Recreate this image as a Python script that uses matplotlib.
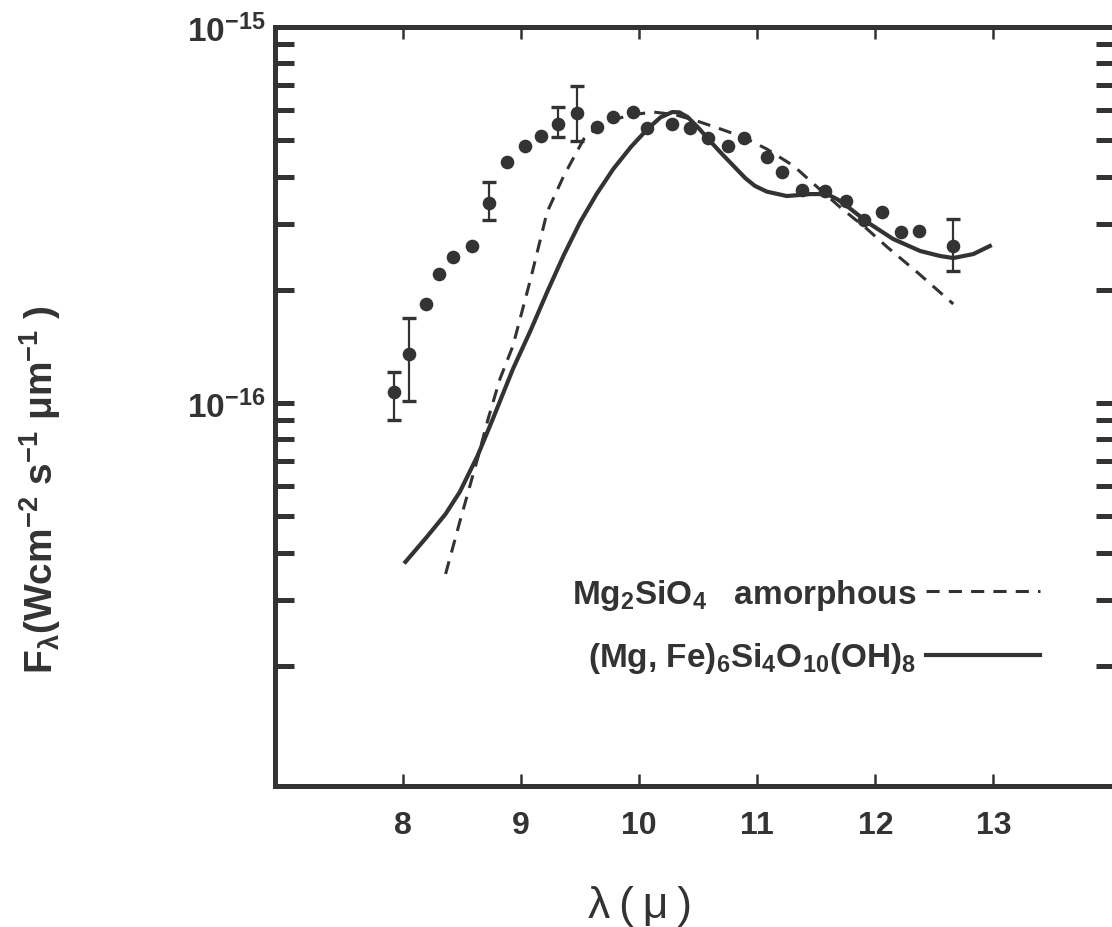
import matplotlib.pyplot as plt
from matplotlib.ticker import FixedLocator, FixedFormatter, LogLocator, NullFormatter

plt.rcParams['font.family'] = ['Liberation Sans', 'DejaVu Sans']
plt.rcParams['font.weight'] = 'bold'
plt.rcParams['mathtext.fontset'] = 'custom'
plt.rcParams['mathtext.rm'] = 'Liberation Sans:bold'
plt.rcParams['mathtext.it'] = 'Liberation Sans:bold:italic'
plt.rcParams['mathtext.bf'] = 'Liberation Sans:bold'
plt.rcParams['mathtext.default'] = 'regular'

ink = '#333333'
unit = 1e-16  # fluxes below are in units of 1e-16 W cm^-2 s^-1 um^-1

# observed spectrum
obs_wl = [7.92, 8.05, 8.19, 8.30, 8.42, 8.58, 8.73, 8.88, 9.03, 9.17, 9.31,
          9.47, 9.64, 9.78, 9.95, 10.07, 10.28, 10.43, 10.58, 10.75, 10.89,
          11.08, 11.21, 11.38, 11.57, 11.75, 11.90, 12.06, 12.22, 12.37, 12.66]
obs_f = [1.07, 1.35, 1.83, 2.20, 2.45, 2.62, 3.40, 4.38, 4.83, 5.13, 5.52,
         5.91, 5.42, 5.76, 5.94, 5.39, 5.52, 5.39, 5.07, 4.83, 5.07,
         4.51, 4.12, 3.69, 3.66, 3.45, 3.07, 3.22, 2.85, 2.87, 2.62]

# points that carry error bars
err_wl = [7.92, 8.05, 8.73, 9.31, 9.47, 12.66]
err_f = [1.07, 1.35, 3.40, 5.52, 5.91, 2.62]
err_lo = [0.90, 1.01, 3.07, 5.10, 4.98, 2.24]
err_hi = [1.21, 1.68, 3.87, 6.13, 6.97, 3.09]

# amorphous Mg2SiO4 model
oliv_wl = [8.36, 8.48, 8.63, 8.72, 8.82, 8.93, 9.08, 9.22, 9.36, 9.53, 9.64,
           9.75, 9.92, 10.12, 10.30, 10.49, 10.69, 10.88, 11.08, 11.31, 11.45,
           11.70, 11.93, 12.10, 12.36, 12.66]
oliv_f = [0.351, 0.483, 0.710, 0.907, 1.158, 1.418, 2.137, 3.221, 4.014, 5.036,
          5.40, 5.623, 5.834, 5.941, 5.85, 5.623, 5.354, 5.098, 4.738, 4.268,
          3.894, 3.321, 2.902, 2.600, 2.220, 1.834]

# (Mg,Fe)6Si4O10(OH)8 model
chl_wl = [8.02, 8.20, 8.36, 8.48, 8.63, 8.76, 8.93, 9.08, 9.22, 9.36, 9.50,
          9.64, 9.78, 9.93, 10.07, 10.18, 10.28, 10.34, 10.41, 10.50, 10.60,
          10.70, 10.80, 10.90, 10.98, 11.08, 11.25, 11.45, 11.59, 11.68, 11.76,
          11.93, 12.15, 12.38, 12.55, 12.66, 12.83, 12.97]
chl_f = [0.378, 0.440, 0.507, 0.580, 0.723, 0.907, 1.231, 1.560, 1.973, 2.470,
         3.030, 3.600, 4.191, 4.800, 5.354, 5.750, 5.941, 5.930, 5.762, 5.400,
         4.975, 4.600, 4.268, 3.960, 3.780, 3.650, 3.552, 3.595, 3.595, 3.480,
         3.341, 3.030, 2.731, 2.537, 2.460, 2.430, 2.490, 2.616]

fig = plt.figure(figsize=(11.12, 9.28), dpi=100)
ax = fig.add_axes([0.2473, 0.1519, 0.7554, 0.8179])

ax.plot(oliv_wl, [v * unit for v in oliv_f], color=ink, lw=2.2,
        linestyle=(0, (4.3, 3.0)), label='Mg$_2$SiO$_4$   amorphous')
ax.plot(chl_wl, [v * unit for v in chl_f], color=ink, lw=3.0,
        label='(Mg, Fe)$_6$Si$_4$O$_{10}$(OH)$_8$')
ax.plot(obs_wl, [v * unit for v in obs_f], 'o', color=ink, ms=8.8)

lo = [(f - l) * unit for f, l in zip(err_f, err_lo)]
hi = [(h - f) * unit for f, h in zip(err_f, err_hi)]
ax.errorbar(err_wl, [v * unit for v in err_f], yerr=[lo, hi], fmt='none',
            ecolor=ink, elinewidth=1.6, capsize=5, capthick=2.4)

ax.set_yscale('log')
ax.set_xlim(6.915, 14.03)
ax.set_ylim(9.58e-18, 1e-15)

ax.yaxis.set_major_locator(FixedLocator([1e-16, 1e-15]))
ax.yaxis.set_major_formatter(FixedFormatter(['$10^{-16}$', '$10^{-15}$']))
ax.yaxis.set_minor_locator(LogLocator(base=10, subs=range(2, 10)))
ax.yaxis.set_minor_formatter(NullFormatter())
ax.set_xticks([8, 9, 10, 11, 12, 13])

ax.tick_params(axis='y', which='both', direction='in', length=14, width=3.6,
               left=True, right=True, labelsize=24, pad=7, color=ink,
               labelcolor=ink)
ax.tick_params(axis='x', direction='in', length=8.6, width=1.8, top=True,
               labelsize=23, pad=17, color=ink, labelcolor=ink)

for s in ax.spines.values():
    s.set_linewidth(3.6)
    s.set_color(ink)

ax.set_xlabel('λ\u2009(\u2009μ\u2009)', fontsize=32, color=ink,
              fontweight='normal')
ax.xaxis.set_label_coords(0.4345, -0.13)
fig.text(0.036, 0.472, 'F$_λ$(Wcm$^{-2}$ s$^{-1}$ μm$^{-1}$ )', rotation=90,
         ha='center', va='center', fontsize=28, color=ink)

leg = ax.legend(loc='center right', bbox_to_anchor=(0.935, 0.324),
                bbox_transform=fig.transFigure, frameon=False,
                markerfirst=False, fontsize=24, handlelength=3.4,
                handletextpad=0.3, labelspacing=0.85, borderpad=0,
                borderaxespad=0)
for t in leg.get_texts():
    t.set_color(ink)

fig.savefig('out.png', dpi=100)
